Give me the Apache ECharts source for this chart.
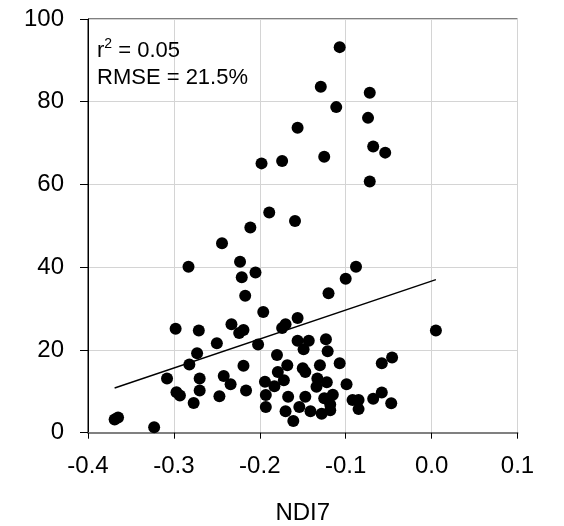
<!DOCTYPE html>
<html>
<head>
<meta charset="utf-8">
<script src="https://cdn.jsdelivr.net/npm/echarts@6/dist/echarts.min.js"></script>
<style>
  html, body { margin: 0; padding: 0; background: #fff; }
  #chart { width: 564px; height: 526px; }
</style>
</head>
<body>
<div id="chart"></div>
<script>
// NDI7 index (x) against observed values in percent (y)
const ndi7 = [
  -0.107, -0.129, -0.072, -0.111, -0.074, -0.156, -0.068, -0.054, -0.198, -0.174,
  -0.125, -0.072, -0.189, -0.159, -0.211, -0.244, -0.223, -0.283, -0.221, -0.205,
  -0.217, -0.088, -0.100, -0.120, -0.196, -0.156, -0.170, -0.174, -0.233, -0.224,
  -0.219, -0.298, -0.271, -0.250, -0.202, -0.273, -0.282, -0.219, -0.180, -0.156,
  -0.143, -0.149, -0.123, -0.121, -0.107, -0.168, -0.179, -0.150, -0.147, -0.130,
  -0.058, -0.046, 0.005, -0.308, -0.270, -0.242, -0.234, -0.297, -0.293, -0.270,
  -0.277, -0.247, -0.216, -0.172, -0.194, -0.183, -0.133, -0.122, -0.134, -0.099,
  -0.193, -0.167, -0.147, -0.125, -0.115, -0.118, -0.118, -0.128, -0.193, -0.170,
  -0.154, -0.141, -0.161, -0.092, -0.085, -0.085, -0.068, -0.058, -0.047, -0.369,
  -0.365, -0.323
];
const observed = [
  93.2, 83.6, 82.2, 78.7, 76.1, 73.7, 69.2, 67.7, 65.1, 65.7,
  66.7, 60.7, 53.2, 51.2, 49.6, 45.8, 41.3, 40.1, 37.6, 38.7,
  33.1, 40.1, 37.2, 33.7, 29.2, 27.7, 26.2, 25.3, 26.2, 24.1,
  24.8, 25.1, 24.7, 21.6, 21.3, 19.2, 16.5, 16.2, 18.8, 22.2,
  22.2, 20.2, 22.6, 19.7, 16.8, 16.3, 14.7, 15.6, 14.7, 16.3,
  16.8, 18.2, 24.7, 13.1, 13.1, 13.7, 11.7, 9.8, 9.0, 10.2,
  7.2, 8.8, 10.2, 12.7, 12.3, 11.2, 13.1, 12.2, 11.1, 11.7,
  9.1, 8.7, 8.7, 8.3, 9.2, 6.8, 5.4, 4.6, 6.2, 5.2,
  6.2, 5.2, 2.8, 7.9, 7.9, 5.7, 8.2, 9.7, 7.1, 3.2,
  3.7, 1.3
];

// Fitted regression line end points
const fitX = [-0.369, 0.005];
const fitY = [10.8, 37.0];

// Axis ticks
const xTicks = [-0.4, -0.3, -0.2, -0.1, 0.0, 0.1];
const yTicks = [0, 20, 40, 60, 80, 100];

// Fit statistics
const rSquared = '0.05';
const rmse = '21.5%';

const FONT = '"Liberation Sans", Arial, sans-serif';

const chart = echarts.init(document.getElementById('chart'), null, { renderer: 'canvas' });

const points = ndi7.map((x, i) => [x, observed[i]]);
const fitLine = fitX.map((x, i) => [x, fitY[i]]);

chart.setOption({
  animation: false,
  backgroundColor: '#fff',
  title: {
    left: 97,
    top: 37,
    padding: 0,
    text: '{t|r}{s|2}{t| = ' + rSquared + '}\n{t|RMSE = ' + rmse + '}',
    textStyle: {
      fontWeight: 'normal',
      rich: {
        t: { fontFamily: FONT, fontSize: 22, fontWeight: 'normal', color: '#000', lineHeight: 27 },
        s: { fontFamily: FONT, fontSize: 14, fontWeight: 'normal', color: '#000', lineHeight: 14, verticalAlign: 'top' }
      }
    }
  },
  grid: {
    left: 88, right: 46.5, top: 19, bottom: 93.3,
    containLabel: false,
    outerBoundsMode: 'none',
    show: true,
    borderColor: '#000',
    borderWidth: 1,
    backgroundColor: 'transparent'
  },
  xAxis: {
    type: 'value',
    min: xTicks[0],
    max: xTicks[xTicks.length - 1],
    interval: 0.1,
    name: 'NDI7',
    nameLocation: 'middle',
    nameGap: 69,
    nameTextStyle: { fontFamily: FONT, fontSize: 24, color: '#000' },
    axisLine: { show: true, onZero: false, lineStyle: { color: '#808080', width: 2 } },
    axisTick: { show: true, inside: false, length: 6, lineStyle: { color: '#000', width: 1 } },
    axisLabel: {
      fontFamily: FONT, fontSize: 24, color: '#000', margin: 22,
      formatter: v => (Math.abs(v) < 1e-9 ? '0.0' : v.toFixed(1))
    },
    splitLine: { show: true, lineStyle: { color: '#d4d4d4', width: 1 } }
  },
  yAxis: {
    type: 'value',
    min: yTicks[0],
    max: yTicks[yTicks.length - 1],
    interval: 20,
    axisLine: { show: true, onZero: false, lineStyle: { color: '#000', width: 1 } },
    axisTick: { show: true, inside: false, length: 8, lineStyle: { color: '#000', width: 1 } },
    axisLabel: { fontFamily: FONT, fontSize: 24, color: '#000', margin: 24 },
    splitLine: { show: true, lineStyle: { color: '#d4d4d4', width: 1 } }
  },
  series: [
    {
      type: 'line',
      data: fitLine,
      symbol: 'none',
      lineStyle: { color: '#000', width: 1.4 },
      z: 2
    },
    {
      type: 'scatter',
      data: points,
      symbol: 'circle',
      symbolSize: 12,
      itemStyle: { color: '#000', opacity: 1 },
      z: 3
    }
  ]
});
</script>
</body>
</html>
